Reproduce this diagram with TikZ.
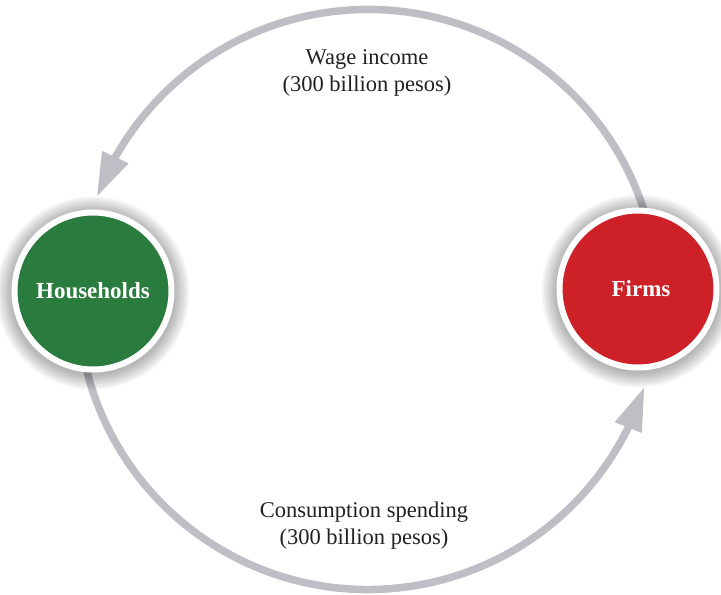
\documentclass[tikz,border=0pt]{standalone}
\usepackage{fontspec}
\setmainfont{Liberation Serif}
\usetikzlibrary{arrows.meta,bending}
\definecolor{arcgray}{RGB}{190,190,196}
\definecolor{hhgreen}{RGB}{42,123,62}
\definecolor{firmred}{RGB}{206,32,39}
\definecolor{inkdark}{RGB}{35,31,32}
\begin{document}
\begin{tikzpicture}[x=1pt,y=1pt,
  flow/.style={draw=arcgray, line width=7.5pt, -{Triangle[length=44pt,width=27pt,flex]}},
  sector/.style={circle, fill=#1, draw=white, line width=6pt, minimum size=157pt, inner sep=0pt,
    text=white, font=\bfseries\fontsize{23}{27}\selectfont},
  flowtext/.style={align=center, text=inkdark, font=\fontsize{22.5}{27}\selectfont},
  glow/.style={fill=black, opacity=0.028}]
\useasboundingbox (0,0) rectangle (721,595);
\coordinate (C) at (368,295.5);
\coordinate (hhc) at (93,304);
\coordinate (fmc) at (638,306);
% flows
\draw[flow] ([shift={(15:290)}]C) arc[start angle=15, end angle=159.3, radius=290];
\draw[flow] ([shift={(188:290)}]C) arc[start angle=188, end angle=342.5, radius=290];
% glows
\foreach \k in {1,...,12}{
  \fill[glow] ([yshift=-2pt]hhc) circle[radius=81+\k*1.3];
  \fill[glow] ([yshift=-2pt]fmc) circle[radius=81+\k*1.3];
}
% sectors
\node[sector=hhgreen] (hh) at (hhc) {Households};
\node[sector=firmred] (fm) at (fmc) {\hspace*{6pt}Firms};
% labels
\node[flowtext] (wage) at (367,521.7) {Wage income\\(300 billion pesos)};
\node[flowtext] (cons) at (364,69.5) {Consumption spending\\(300 billion pesos)};
\end{tikzpicture}
\end{document}
